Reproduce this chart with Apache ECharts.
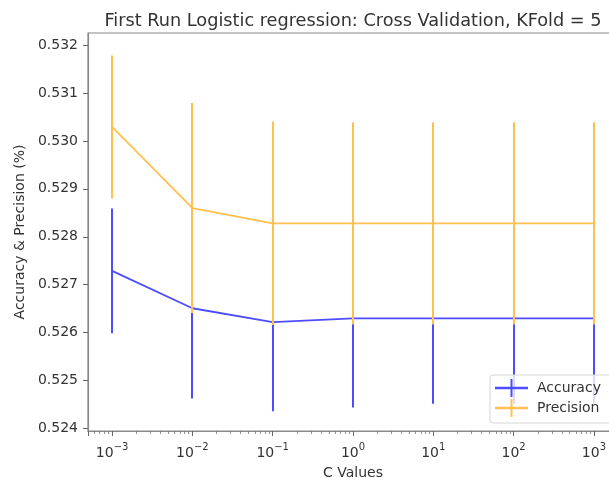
<!DOCTYPE html>
<html>
<head>
<meta charset="utf-8">
<script src="https://cdn.jsdelivr.net/npm/echarts@6/dist/echarts.min.js"></script>
<style>
  html, body { margin: 0; padding: 0; background: #fff; }
  #chart { width: 609px; height: 478px; }
</style>
</head>
<body>
<div id="chart"></div>
<script>
// Regularisation strengths tried in the cross-validation run
const cValues = [0.001, 0.01, 0.1, 1, 10, 100, 1000];
// Mean accuracy over the folds and its standard deviation
const accuracy = [0.52729, 0.52651, 0.52622, 0.52630, 0.52630, 0.52630, 0.52630];
const accuracyStd = [0.00130, 0.00188, 0.00186, 0.00186, 0.00178, 0.00178, 0.00178];
// Mean precision over the folds and its standard deviation
const precision = [0.53029, 0.52860, 0.52828, 0.52828, 0.52828, 0.52828, 0.52828];
const precisionStd = [0.00149, 0.00219, 0.00212, 0.00211, 0.00211, 0.00211, 0.00211];

const BLUE = '#4d4dff';
const ORANGE = '#ffc04d';
const FONT = 'DejaVu Sans';
const SUP = { '-3': '\u22123', '-2': '\u22122', '-1': '\u22121', '0': '0', '1': '1', '2': '2', '3': '3' };

function meanLine(values) {
  return cValues.map((c, i) => [c, values[i]]);
}
function spread(values, std) {
  return cValues.map((c, i) => [c, values[i] - std[i], values[i] + std[i]]);
}
// Vertical error bar from mean - std to mean + std, snapped to whole pixels
function errorBars(color) {
  return function (params, api) {
    const x = api.value(0);
    const lo = api.coord([x, api.value(1)]);
    const hi = api.coord([x, api.value(2)]);
    const px = Math.round(lo[0]);
    return {
      type: 'line',
      shape: { x1: px, y1: lo[1], x2: px, y2: hi[1] },
      style: { stroke: color, lineWidth: 2 }
    };
  };
}

const crossIcon = 'path://M0,7.8L33,7.8L33,10.2L0,10.2Z M15.5,0L17.5,0L17.5,18L15.5,18Z';

const chart = echarts.init(document.getElementById('chart'), null, { renderer: 'canvas' });
chart.setOption({
  animation: false,
  backgroundColor: '#ffffff',
  textStyle: { fontFamily: FONT },
  title: {
    text: 'First Run Logistic regression: Cross Validation, KFold = 5',
    left: 353,
    textAlign: 'center',
    top: 12,
    padding: 0,
    textStyle: { fontFamily: FONT, fontSize: 17.7, fontWeight: 'normal', color: '#333' }
  },
  grid: {
    left: 88, top: 33, right: -9, bottom: 47,
    outerBoundsMode: 'none',
    containLabel: false,
    show: true, borderColor: '#8a8a8a', borderWidth: 1.2, backgroundColor: 'transparent'
  },
  legend: {
    orient: 'vertical',
    left: 490,
    top: 375,
    padding: [4, 16, 6, 5],
    itemWidth: 33,
    itemHeight: 18,
    itemGap: 2,
    backgroundColor: 'rgba(255,255,255,0.8)',
    borderColor: '#d6d6d6',
    borderWidth: 1,
    borderRadius: 3,
    z: 20,
    textStyle: { fontFamily: FONT, fontSize: 14, color: '#333', padding: [0, 0, 0, 4] },
    data: [
      { name: 'Accuracy', icon: crossIcon },
      { name: 'Precision', icon: crossIcon }
    ]
  },
  xAxis: {
    type: 'log',
    logBase: 10,
    min: Math.pow(10, -3.3),
    max: Math.pow(10, 3.3),
    name: 'C Values',
    nameLocation: 'middle',
    nameGap: 35,
    nameTextStyle: { fontFamily: FONT, fontSize: 14, color: '#333' },
    axisLine: { lineStyle: { color: '#8a8a8a', width: 1.2 } },
    axisTick: { length: 5, lineStyle: { color: '#666', width: 1 } },
    minorTick: { show: true, splitNumber: 9, length: 3, lineStyle: { color: '#777', width: 0.8 } },
    splitLine: { show: false },
    axisLabel: {
      margin: 11,
      showMinLabel: false,
      showMaxLabel: false,
      formatter: function (v) {
        const e = String(Math.round(Math.log10(v)));
        return '{b|10}{s|' + (SUP[e] || e) + '}';
      },
      rich: {
        b: { fontFamily: FONT, fontSize: 14, color: '#333', lineHeight: 18, verticalAlign: 'bottom' },
        s: { fontFamily: FONT, fontSize: 10, color: '#333', lineHeight: 10, verticalAlign: 'top' }
      }
    }
  },
  yAxis: {
    type: 'value',
    min: 0.52395,
    max: 0.53225,
    splitNumber: 8,
    scale: true,
    name: 'Accuracy & Precision (%)',
    nameLocation: 'middle',
    nameGap: 60,
    nameTextStyle: { fontFamily: FONT, fontSize: 14, color: '#333' },
    axisLine: { show: true, lineStyle: { color: '#8a8a8a', width: 1.2 } },
    axisTick: { show: true, length: 5, lineStyle: { color: '#666', width: 1 } },
    splitLine: { show: false },
    axisLabel: {
      margin: 10,
      showMinLabel: false,
      showMaxLabel: false,
      fontFamily: FONT,
      fontSize: 14,
      color: '#333',
      formatter: v => v.toFixed(3)
    }
  },
  series: [
    {
      name: 'Accuracy', type: 'line', color: BLUE, symbol: 'none',
      lineStyle: { color: BLUE, width: 1.8 },
      data: meanLine(accuracy), z: 2
    },
    {
      name: 'Accuracy', type: 'custom', color: BLUE,
      renderItem: errorBars(BLUE),
      encode: { x: 0, y: [1, 2] },
      data: spread(accuracy, accuracyStd), z: 2
    },
    {
      name: 'Precision', type: 'line', color: ORANGE, symbol: 'none',
      lineStyle: { color: ORANGE, width: 1.8 },
      data: meanLine(precision), z: 3
    },
    {
      name: 'Precision', type: 'custom', color: ORANGE,
      renderItem: errorBars(ORANGE),
      encode: { x: 0, y: [1, 2] },
      data: spread(precision, precisionStd), z: 3
    }
  ]
});
</script>
</body>
</html>
